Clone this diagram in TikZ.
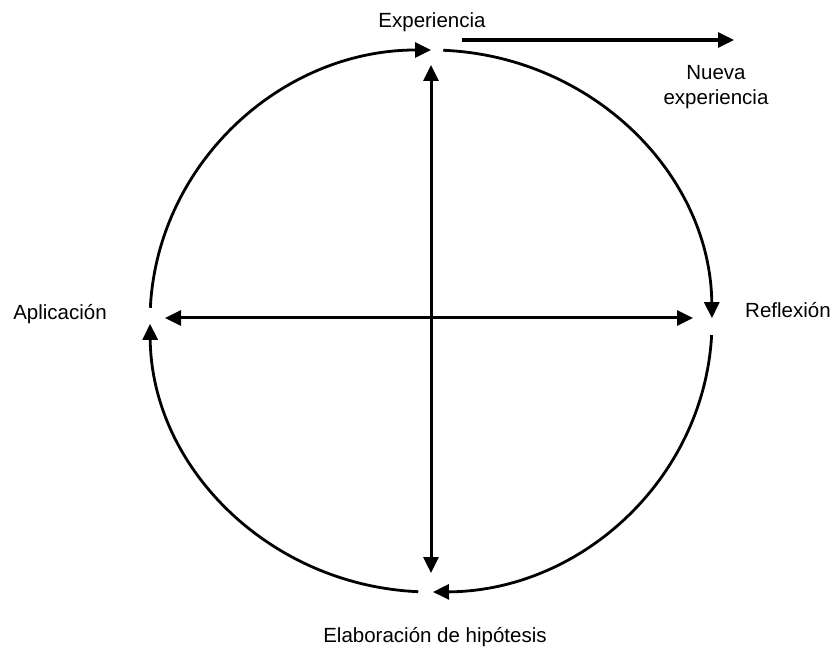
\documentclass[tikz,border=0pt]{standalone}
\usepackage{fontspec}
\setmainfont{Liberation Sans}
\usetikzlibrary{arrows.meta}
\begin{document}
\begin{tikzpicture}[x=1pt,y=1pt,
  cycle/.style={line width=2.8pt,-{Triangle[length=16pt,width=15pt]}},
  axis/.style={line width=3pt,{Triangle[length=16pt,width=15pt]}-{Triangle[length=16pt,width=15pt]}},
  outarrow/.style={line width=3.2pt,-{Triangle[length=16pt,width=15pt]}},
  lbl/.style={font=\fontsize{20.5}{25}\selectfont, inner sep=0pt}]
\useasboundingbox (0,0) rectangle (835,648);
% centre of the cycle and its radii
\coordinate (C) at (431,327);
\def\rx{281}\def\ry{271}
% labels
\node[lbl, anchor=base] (exp) at (432,620) {Experiencia};
\node[lbl, anchor=base west] (ref) at (745,330) {Reflexión};
\node[lbl, anchor=base] (elab) at (435,6) {Elaboración de hipótesis};
\node[lbl, anchor=base] (apl) at (60,328) {Aplicación};
\node[lbl, align=center, anchor=base] (nueva) at (716,543) {Nueva\\experiencia};
% four arcs of the cycle, each ending with an arrow at the next stage
\draw[cycle] ([shift={(177.2:\rx pt and \ry pt)}]C)
  arc[start angle=177.2, end angle=90, x radius=\rx, y radius=\ry];
\draw[cycle] ([shift={(87.5:\rx pt and \ry pt)}]C)
  arc[start angle=87.5, end angle=0.6, x radius=\rx, y radius=\ry];
\draw[cycle] ([shift={(-3:\rx pt and \ry pt)}]C)
  arc[start angle=-3, end angle=-89.6, x radius=\rx, y radius=\ry];
\draw[cycle] ([shift={(-92.6:\rx pt and \ry pt)}]C)
  arc[start angle=-92.6, end angle=-179.4, x radius=\rx, y radius=\ry];
% the cross of double arrows
\coordinate (vtop) at (431,583);
\coordinate (vbot) at (431,75);
\coordinate (hleft) at (165,330);
\coordinate (hright) at (693,330);
\draw[axis] (vbot) -- (vtop);
\draw[axis] (hleft) -- (hright);
% arrow to the new experience
\coordinate (nstart) at (462,608);
\coordinate (nend) at (734,608);
\draw[outarrow] (nstart) -- (nend);
\end{tikzpicture}
\end{document}
